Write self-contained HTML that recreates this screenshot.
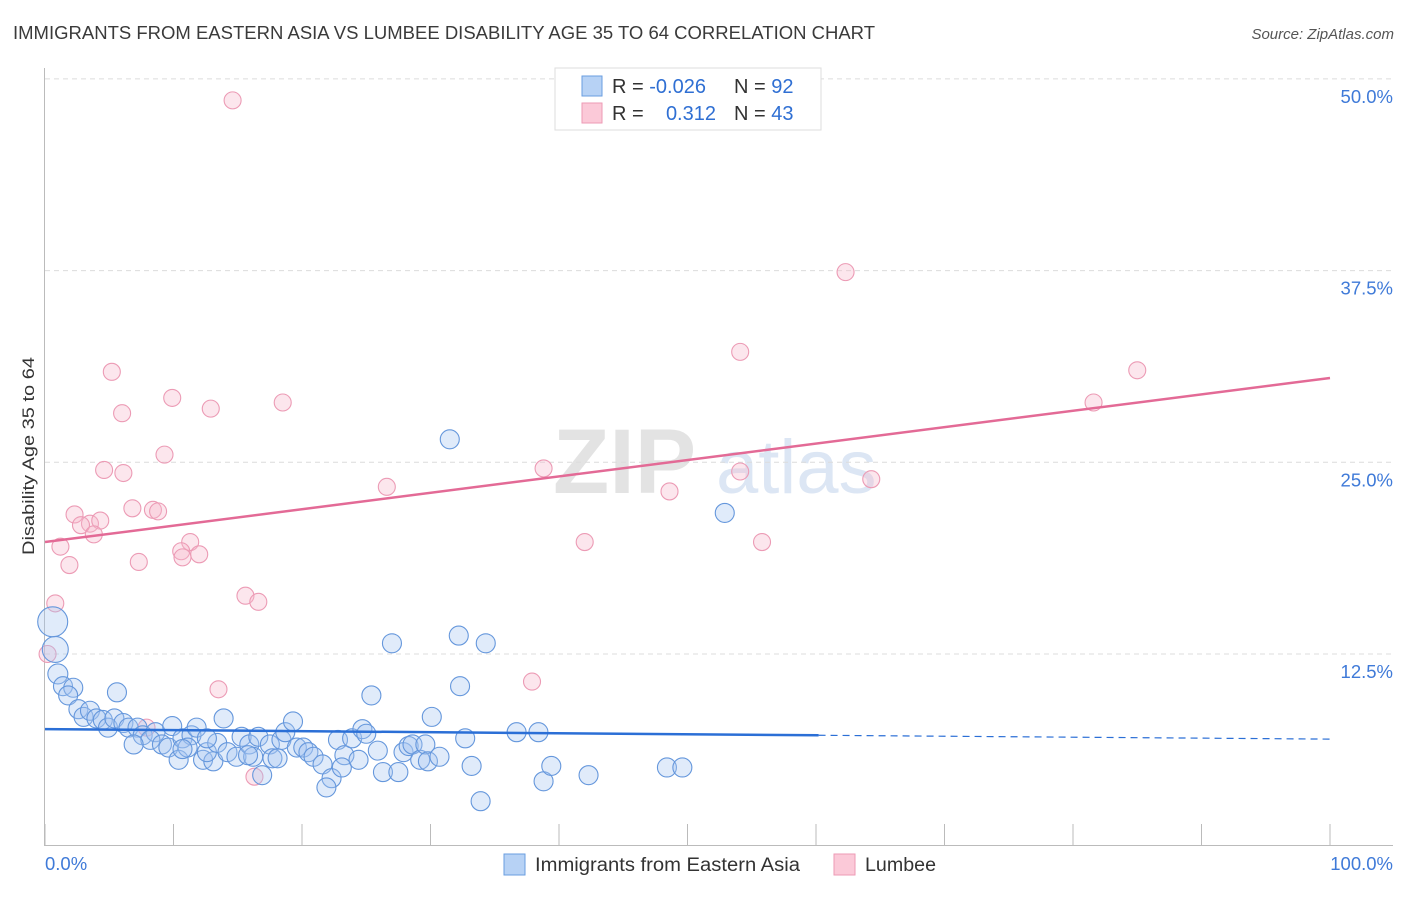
<!DOCTYPE html>
<html><head><meta charset="utf-8"><style>
body{margin:0;background:#fff;font-family:"Liberation Sans",sans-serif;}
svg text{font-family:"Liberation Sans",sans-serif;}
</style></head><body>
<svg id="chart" width="1406" height="892" xmlns="http://www.w3.org/2000/svg">
<text x="13" y="39" font-size="18" fill="#3a3a3a" textLength="862" lengthAdjust="spacingAndGlyphs">IMMIGRANTS FROM EASTERN ASIA VS LUMBEE DISABILITY AGE 35 TO 64 CORRELATION CHART</text>
<text x="1394" y="39" font-size="15" fill="#555" font-style="italic" text-anchor="end">Source: ZipAtlas.com</text>
<g>
<text x="553" y="493" font-size="92" fill="#e3e3e3" font-family="Liberation Serif" font-weight="bold">ZIP</text>
<text x="716" y="493" font-size="76" fill="#dce6f4">atlas</text>
</g>
<g id="grid"></g>
<g id="axes"></g>
<g id="marks"></g>
<g>
<rect x="555" y="68" width="266" height="62" fill="#fff" stroke="#ddd"/>
<rect x="582" y="76" width="20" height="20" fill="#b7d2f5" stroke="#6a9ee0"/>
<rect x="582" y="103" width="20" height="20" fill="#fbc9d8" stroke="#ee9ab5"/>
<text x="612" y="93" font-size="20" fill="#333">R = <tspan fill="#2f6fd3">-0.026</tspan></text>
<text x="734" y="93" font-size="20" fill="#333">N = <tspan fill="#2f6fd3">92</tspan></text>
<text x="612" y="120" font-size="20" fill="#333">R = </text>
<text x="716" y="120" font-size="20" fill="#2f6fd3" text-anchor="end">0.312</text>
<text x="734" y="120" font-size="20" fill="#333">N = <tspan fill="#2f6fd3">43</tspan></text>
</g>
<g>
<rect x="504" y="854" width="21" height="21" fill="#b7d2f5" stroke="#6a9ee0"/>
<text x="535" y="871" font-size="19" fill="#333" textLength="265" lengthAdjust="spacingAndGlyphs">Immigrants from Eastern Asia</text>
<rect x="834" y="854" width="21" height="21" fill="#fbc9d8" stroke="#ee9ab5"/>
<text x="865" y="871" font-size="19" fill="#333" textLength="71" lengthAdjust="spacingAndGlyphs">Lumbee</text>
</g>
<text transform="translate(34,456) rotate(-90)" font-size="17" fill="#333" text-anchor="middle" textLength="198" lengthAdjust="spacingAndGlyphs">Disability Age 35 to 64</text>
</svg>
<script>
const yTicks=[12.5,25,37.5,50];
const yTickLabels=["12.5%","25.0%","37.5%","50.0%"];
const xTicks=[0,10,20,30,40,50,60,70,80,90,100];
const blueX=[0.6,0.8,1.0,1.4,2.2,1.8,5.6,2.6,3.0,3.5,4.0,4.5,4.9,5.4,6.1,6.5,7.2,7.6,8.6,8.2,6.9,9.1,9.6,9.9,10.4,10.7,11.4,11.8,11.1,12.3,13.1,12.6,13.4,13.9,14.2,14.9,15.3,15.9,16.2,16.6,16.9,17.5,17.7,18.4,18.7,19.3,19.6,20.1,20.5,20.9,21.6,22.3,21.9,22.8,23.3,23.1,23.9,24.4,24.7,25.0,25.4,25.9,26.3,27.0,27.5,27.9,28.3,28.6,29.2,29.6,29.8,30.1,30.7,31.5,32.2,32.3,32.7,33.2,33.9,34.3,36.7,38.4,38.8,39.4,42.3,48.4,49.6,52.9,18.1,15.8,10.7,12.6];
const blueY=[14.6,12.8,11.2,10.4,10.3,9.8,10.0,8.9,8.4,8.8,8.3,8.2,7.7,8.3,8.0,7.7,7.7,7.2,7.4,6.9,6.6,6.6,6.4,7.8,5.6,7.0,7.2,7.7,6.4,5.6,5.5,6.1,6.7,8.3,6.1,5.8,7.1,6.6,5.8,7.1,4.6,6.6,5.7,6.9,7.4,8.1,6.4,6.4,6.1,5.8,5.3,4.4,3.8,6.9,5.9,5.1,7.0,5.6,7.6,7.3,9.8,6.2,4.8,13.2,4.8,6.1,6.5,6.6,5.6,6.6,5.5,8.4,5.8,26.5,13.7,10.4,7.0,5.2,2.9,13.2,7.4,7.4,4.2,5.2,4.6,5.1,5.1,21.7,5.7,5.9,6.3,7.0];
const pinkX=[14.6,62.3,54.1,85.0,5.2,9.9,18.5,12.9,6.0,81.6,9.3,4.6,6.1,38.8,54.1,64.3,26.6,48.6,2.3,6.8,8.4,8.8,3.5,4.3,2.8,3.8,1.2,42.0,55.8,11.3,10.6,10.7,12.0,7.3,1.9,15.6,16.6,0.8,0.2,37.9,13.5,7.9,16.3];
const pinkY=[48.6,37.4,32.2,31.0,30.9,29.2,28.9,28.5,28.2,28.9,25.5,24.5,24.3,24.6,24.4,23.9,23.4,23.1,21.6,22.0,21.9,21.8,21.0,21.2,20.9,20.3,19.5,19.8,19.8,19.8,19.2,18.8,19.0,18.5,18.3,16.3,15.9,15.8,12.5,10.7,10.2,7.7,4.5];
const blueTrend=[7.6,7.2,6.95];
const blueSolidEnd=60.2;
const pinkTrend=[19.8,30.5];
const NS="http://www.w3.org/2000/svg";
const X=v=>45+v*12.85, Y=v=>845.7-v*15.336;
function mk(tag,attrs,parent){const e=document.createElementNS(NS,tag);for(const k in attrs)e.setAttribute(k,attrs[k]);parent.appendChild(e);return e;}
const grid=document.getElementById('grid'),axes=document.getElementById('axes'),marks=document.getElementById('marks');
yTicks.forEach((t,i)=>{
 const l=mk('line',{x1:45,x2:1393,y1:Y(t),y2:Y(t),stroke:'#dcdcdc','stroke-dasharray':'5,4'},grid);
 
 
 const tx=mk('text',{x:1393,y:Y(t)+24,'font-size':18.5,fill:'#3f7ad8','text-anchor':'end'},axes);
 tx.textContent=yTickLabels[i];
 
 
});
const ax=mk('line',{x1:45,x2:1393,y1:845.5,y2:845.5,stroke:'#bbb'},axes);


const ay=mk('line',{x1:44.5,x2:44.5,y1:68,y2:846,stroke:'#bbb'},axes);


xTicks.forEach(t=>{
 const l=mk('line',{x1:X(t),x2:X(t),y1:824,y2:846,stroke:'#bbb'},axes);
 
 
});
const xl0=mk('text',{x:45,y:870,'font-size':18.5,fill:'#3f7ad8'},axes);xl0.textContent='0.0%';


const xl1=mk('text',{x:1393,y:870,'font-size':18.5,fill:'#3f7ad8','text-anchor':'end'},axes);xl1.textContent='100.0%';


pinkX.forEach((v,i)=>{
 const c=mk('circle',{cx:X(v),cy:Y(pinkY[i]),r:8.5,fill:'rgba(246,182,203,0.35)',stroke:'#ec9bb5','stroke-width':1.1},marks);
 
 
});
blueX.forEach((v,i)=>{
 const r=i==0?15:(i==1?13:(i==2?10:9.5));
 const c=mk('circle',{cx:X(v),cy:Y(blueY[i]),r:r,fill:'rgba(165,199,240,0.35)',stroke:'#6597dc','stroke-width':1.1},marks);
 
 
});
const bl=mk('line',{x1:X(0),y1:Y(blueTrend[0]),x2:X(blueSolidEnd),y2:Y(blueTrend[1]),stroke:'#2b6fd6','stroke-width':2.5},marks);


const bd=mk('line',{x1:X(blueSolidEnd),y1:Y(blueTrend[1]),x2:X(100),y2:Y(blueTrend[2]),stroke:'#2b6fd6','stroke-width':1.2,'stroke-dasharray':'7,5'},marks);


const pl=mk('line',{x1:X(0),y1:Y(pinkTrend[0]),x2:X(100),y2:Y(pinkTrend[1]),stroke:'#e36a96','stroke-width':2.5},marks);


</script>
</body></html>
